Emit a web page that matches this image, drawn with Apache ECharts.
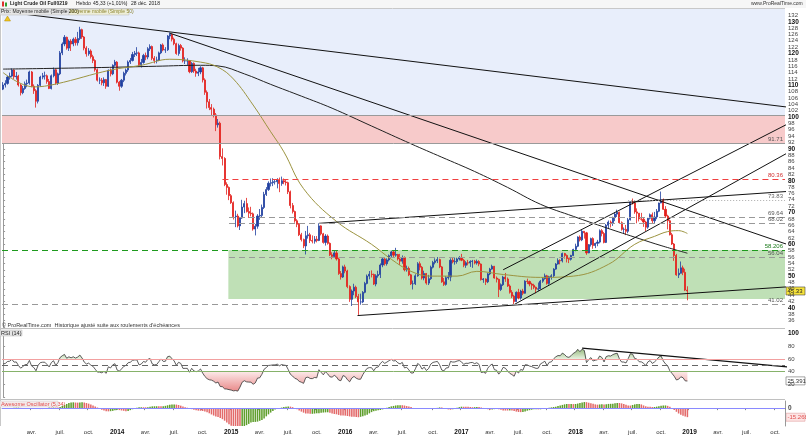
<!DOCTYPE html>
<html><head><meta charset="utf-8">
<script src="https://cdn.jsdelivr.net/npm/echarts@6/dist/echarts.min.js"></script>
<style>html,body{margin:0;padding:0;background:#fff;}#chart{width:806px;height:437px;}</style>
</head><body><div id="chart"></div>
<script>
// ---------------- DATA (weekly, adjusted continuous contract) ----------------
const firstOpen = 108.8;
const close2013 = [110.1,110.6,112.6,112.9,114.8,112.7,112.9,110.1,107.7,109.0,110.5,110.7,114.2,109.7,108.3,105.0,110.0,112.6,113.0,113.0,111.2,109.0,113.0,114.9,110.7,113.6,120.2,123.0,125.1,121.7,123.9,123.0,124.5,123.4,124.7,127.5,125.2,121.7,119.9,120.8,119.0,117.8,114.9,111.6,111.6,110.8,111.8,109.7,114.7,113.6,116.3,117.3];
const high2013  = [111.0,111.6,113.0,114.0,115.3,115.0,114.2,113.3,110.5,109.8,111.2,111.8,114.6,114.5,110.3,108.8,110.4,113.0,113.9,114.3,113.4,112.0,113.4,115.6,115.2,114.0,120.8,123.5,125.8,125.3,124.4,124.5,125.0,125.2,126.8,128.4,127.8,125.5,122.3,121.7,121.3,119.6,118.2,115.3,112.5,112.3,112.5,112.0,115.0,115.3,116.6,118.0];
const low2013   = [108.5,109.3,110.2,111.8,112.5,112.0,111.8,109.6,106.8,107.2,108.6,109.4,110.2,109.4,107.3,103.0,104.3,109.5,111.9,111.8,110.5,108.8,108.7,112.5,110.2,110.1,113.2,119.5,122.3,121.2,120.8,120.8,122.3,122.5,122.5,124.2,124.6,121.0,119.0,119.3,118.4,117.0,114.3,111.2,110.4,110.0,109.8,108.9,109.5,112.8,113.2,115.9];
const close2014 = [111.0,109.7,111.6,113.8,114.8,117.3,117.8,119.7,120.1,120.2,116.5,117.2,119.4,118.9,121.5,122.2,118.5,117.8,118.0,120.2,122.7,121.1,121.2,125.5,126.0,124.5,123.1,120.0,122.5,121.7,117.7,117.7,117.7,114.3,116.9,114.5,113.8,114.2,115.5,111.7,107.8,104.8,103.0,102.5,100.7,97.6,98.1,87.6,87.0,78.8,77.9,75.3];
const high2014  = [117.6,111.4,112.0,114.3,115.3,117.8,118.6,120.5,120.8,122.0,120.6,118.3,119.9,120.3,122.0,122.9,122.5,119.2,119.0,120.6,123.0,123.2,122.0,125.8,126.6,126.2,125.0,123.4,123.1,123.0,122.0,118.8,118.5,117.9,117.3,117.2,115.2,115.5,116.0,115.8,112.2,108.4,105.7,104.1,103.0,101.3,99.4,98.6,90.2,87.4,79.5,78.2];
const low2014   = [110.6,108.3,109.2,111.0,113.1,114.2,116.7,117.5,118.9,119.2,115.8,115.6,116.8,117.9,118.2,120.8,117.9,116.9,116.9,117.6,119.8,120.7,120.2,120.8,124.5,123.8,122.6,119.6,119.3,120.9,117.2,116.7,116.4,113.8,113.9,113.9,112.7,112.9,113.5,110.9,107.0,102.7,102.2,100.6,99.9,95.6,96.7,86.7,84.8,78.3,75.6,73.9];
const close2015 = [73.1,68.7,68.9,65.8,68.3,71.7,72.8,70.3,69.8,69.6,64.8,65.7,68.9,69.1,71.6,75.7,77.2,79.2,79.4,79.7,79.7,80.3,79.1,80.0,79.6,79.4,76.5,72.2,70.3,67.4,66.3,63.0,61.5,59.5,62.7,63.0,61.2,61.0,61.6,61.2,65.8,63.3,60.6,62.6,60.3,56.7,56.2,57.3,55.4,50.8,49.7,52.9,51.6];
const high2015  = [75.8,73.5,70.6,69.6,68.6,74.0,73.7,74.6,71.6,71.8,70.0,66.4,69.5,71.1,72.5,76.5,78.0,79.8,80.7,80.8,80.5,80.8,81.0,81.3,80.7,80.4,79.7,76.9,73.0,70.6,67.9,66.7,63.6,61.8,64.2,65.8,63.6,62.8,62.6,62.6,66.6,66.0,63.6,63.2,63.1,60.6,57.5,58.0,58.2,55.8,51.6,53.3,53.6];
const low2015   = [72.7,67.8,65.4,65.3,64.5,68.0,69.8,70.0,68.3,68.8,64.3,62.8,64.9,67.7,68.4,71.1,75.2,76.8,78.2,78.3,78.8,77.6,76.4,78.4,78.9,78.5,75.8,71.3,69.7,66.8,65.4,62.6,60.9,58.8,56.8,61.8,60.4,60.3,60.2,60.6,61.0,62.8,60.2,59.6,59.9,56.3,55.3,55.7,54.9,50.4,48.9,49.4,50.9];
const close2016 = [46.7,42.7,45.3,46.5,43.6,41.9,41.9,44.9,47.7,50.0,50.6,50.5,47.5,50.1,50.5,53.5,55.4,53.9,55.1,56.4,57.6,56.6,56.8,55.4,54.7,55.8,52.0,52.4,50.4,47.6,47.6,50.1,53.9,52.8,49.4,50.8,47.8,49.2,52.8,54.3,54.8,55.2,52.9,48.2,47.4,49.5,49.7,55.0,54.5,54.6,55.4,55.8];
const high2016  = [52.0,47.1,45.8,47.6,47.0,44.4,44.5,45.3,48.2,50.5,51.6,51.8,50.8,50.6,51.7,54.0,55.9,55.8,55.6,56.8,58.0,58.0,58.9,57.0,57.0,56.5,56.2,53.3,53.0,50.7,48.6,50.6,54.4,54.6,53.2,51.7,51.0,50.4,53.3,54.8,55.6,56.0,55.5,53.2,49.4,50.0,51.3,55.6,55.9,56.0,55.8,56.3];
const low2016   = [46.2,41.9,40.6,44.0,43.1,37.8,41.0,41.5,44.6,47.4,49.0,49.6,47.2,46.8,49.5,49.4,52.8,53.3,53.3,54.6,55.8,56.0,56.1,54.9,53.5,53.9,51.5,51.4,50.0,47.2,45.8,47.2,49.8,51.8,48.9,48.7,47.3,47.2,48.8,52.4,53.7,54.1,52.5,47.9,46.9,47.0,48.9,48.4,54.0,53.6,53.9,54.9];
const close2017 = [55.0,53.4,54.2,54.1,54.6,54.7,54.1,54.6,53.8,48.9,49.1,48.2,50.7,52.2,53.1,49.4,49.0,45.8,47.3,49.7,49.1,46.9,44.9,43.7,42.0,44.9,43.1,45.3,44.6,48.4,48.3,47.5,47.1,46.5,45.9,46.0,48.4,49.2,50.1,47.7,49.8,50.1,52.2,53.8,54.9,54.8,57.1,56.5,55.5,55.3,56.5,58.4];
const high2017  = [57.0,55.4,54.7,55.1,55.0,55.1,55.1,55.2,55.0,54.0,49.4,49.3,51.0,52.6,53.6,53.2,49.9,49.2,47.7,50.1,51.0,49.6,47.4,45.6,44.1,45.2,46.0,45.7,46.0,48.7,49.2,48.6,47.9,47.6,46.7,48.0,48.8,49.6,50.8,50.4,50.1,50.6,52.5,54.1,55.6,55.3,57.4,57.3,56.8,55.8,56.7,58.6];
const low2017   = [54.7,52.8,52.6,53.4,52.9,52.6,53.7,53.6,53.1,48.6,47.9,47.2,47.8,50.3,52.0,49.2,48.0,43.4,45.3,46.9,48.2,46.6,44.5,43.1,41.05,41.9,42.7,42.6,44.0,44.5,47.5,46.8,45.7,45.9,44.6,45.3,45.9,47.9,48.9,47.3,47.3,48.9,49.6,52.0,53.6,53.7,54.3,55.5,54.3,54.1,54.9,56.3];
const close2018 = [59.4,62.3,61.4,64.1,63.6,57.3,59.9,61.8,59.6,60.3,60.7,64.3,63.4,60.6,66.0,67.0,66.8,68.4,69.5,70.1,66.8,64.7,64.7,64.1,67.7,73.3,73.0,70.2,69.8,68.0,67.9,67.0,65.4,68.2,69.3,67.4,68.6,70.4,73.0,74.0,71.0,68.9,67.4,63.0,60.1,56.5,50.4,50.9,52.6,51.2,45.6,45.33];
const high2018  = [60.2,62.5,62.8,64.6,64.1,63.9,60.1,62.1,62.2,60.5,61.4,64.7,64.8,63.9,66.4,67.5,67.5,68.7,70.1,70.9,70.3,67.2,65.3,66.1,68.3,73.4,74.4,73.5,71.3,69.8,69.9,68.4,67.4,68.3,69.7,70.0,70.2,71.1,73.1,76.6,74.4,72.0,69.3,67.8,63.6,60.4,57.0,52.4,54.6,53.3,52.3,46.8];
const low2018   = [57.8,59.1,60.9,61.0,61.8,56.7,57.2,59.3,58.6,58.8,59.4,60.3,62.5,60.3,60.4,64.9,65.3,65.8,67.3,68.6,66.5,64.3,63.4,62.9,63.5,67.5,72.5,69.6,66.6,67.2,67.4,65.5,64.2,64.9,67.8,66.7,66.5,67.9,70.1,72.9,70.8,68.3,64.7,62.8,59.8,54.8,50.1,49.4,50.8,50.3,45.3,42.4];

// moving averages (week index, value)
const ma50Idx = [0,14,24,49,63,76,90,98,105,114,122,128,137,152,168,177,186,195,207,216,228,245,260,276,288,297,303,308,312];
const ma50Val = [114.0,109.5,110.4,114.8,116.3,118.2,117.3,115.7,112.0,103.8,95.4,89.1,77.5,67.2,60.0,55.3,51.5,50.0,50.0,51.5,50.5,49.6,50.0,53.7,60.0,62.5,64.0,64.3,63.4];
const ma200Idx = [0,20,45,70,90,98,110,122,136,150,168,186,200,215,230,245,260,275,290,300,312];
const ma200Val = [115.1,115.3,115.6,116.0,116.3,116.1,113.6,110.3,106.6,102.8,97.2,91.6,87.4,82.9,77.9,72.6,68.8,65.2,61.8,59.6,57.2];

// zones and horizontal levels (price values, start week index)
const zoneBlue  = [100.7, 134];
const zonePink  = [91.71, 100.7];
const zoneGreen = [42.8, 58.206];
const zoneGreenFrom = 102.7;
const levelVals  = [100.7, 91.71, 80.36, 73.83, 68.6, 66.7, 58.206, 56.04, 41.02];
const levelText  = ['', '91.71', '80.36', '73.83', '69.64', '68.02', '58.206', '56.04', '41.02'];
const levelFrom  = [-0.5, -0.5, 100, 285, 103, 103, -0.5, 103, -0.5];
const levelKind  = ['border','border','red','dot','grey','grey','green','grey','grey'];

// trend lines: [weekIndex, price]
const trendA = [[-1.4,133.3],[357,103.2]];
const trendB = [[76,126.4],[357,60.1]];
const trendC = [[144,66.6],[357,76.6]];
const trendD = [[161.6,37.6],[357,46.6]];
const trendE = [[233,41.05],[357,88.5]];
const trendF = [[228,52.0],[357,97.6]];
const rsiTrend = [[264,77],[358.5,47]];
const lastPrice = 45.33, lastRsi = 25.391, lastAo = -15.268;

// ---------------- BUILD ----------------
const closes = [].concat(close2013, close2014, close2015, close2016, close2017, close2018);
const highs  = [].concat(high2013, high2014, high2015, high2016, high2017, high2018);
const lows   = [].concat(low2013, low2014, low2015, low2016, low2017, low2018);
const N = closes.length;
const NCAT = 357, DAY = 864e5, W0 = Date.UTC(2013, 0, 4);
const cats = Array.from({length: NCAT}, (_, k) => new Date(W0 + k * 7 * DAY).toISOString().slice(0, 10));
const candles = closes.map((c, i) => [i === 0 ? firstOpen : closes[i - 1], c, lows[i], highs[i]]);

// RSI(14) Wilder smoothing (seeded neutral)
const rsi = [];
let ag = 1.2, al = 1.2;
for (let i = 0; i < N; i++) {
  const prev = i === 0 ? firstOpen : closes[i - 1];
  const ch = closes[i] - prev, g = Math.max(ch, 0), l = Math.max(-ch, 0);
  ag = (ag * 13 + g) / 14; al = (al * 13 + l) / 14;
  rsi.push(al === 0 ? 100 : 100 - 100 / (1 + ag / al));
}
// Awesome oscillator (5,34)
const med = highs.map((h, i) => (h + lows[i]) / 2);
const sma = (a, i, n) => { const s = Math.max(0, i - n + 1); let t = 0; for (let j = s; j <= i; j++) t += a[j]; return t / (i - s + 1); };
const ao = med.map((_, i) => sma(med, i, 5) - sma(med, i, 34));
const aoData = ao.map((v, i) => ({value: v, itemStyle: {color: (i > 0 && v < ao[i - 1]) ? '#e36a6a' : '#5f9e2c'}}));

const MON = {3: 'avr.', 6: 'juil.', 9: 'oct.'};
function qText(k) {
  if (k <= 0) return '';
  const d = new Date(W0 + k * 7 * DAY), p = new Date(W0 + (k - 1) * 7 * DAY);
  const m = d.getUTCMonth();
  if (m === p.getUTCMonth() || m % 3) return '';
  return m === 0 ? '{y|' + d.getUTCFullYear() + '}' : MON[m];
}

const FONT = 'Liberation Sans, Arial, sans-serif';
const lvlStyle = {
  border: {color: '#9a9a9a', type: 'solid', width: 1},
  red: {color: '#f04040', type: [6, 4], width: 1},
  dot: {color: '#aaaaaa', type: [1, 2], width: 1},
  grey: {color: '#999999', type: [6, 4], width: 1},
  green: {color: '#1e9a1e', type: [6, 4], width: 1}
};
const lvlText = {border: '#555', red: '#d03030', dot: '#666', grey: '#555', green: '#1a7a1a'};
const levelLines = levelVals.map((v, j) => [
  {coord: [levelFrom[j], v], lineStyle: lvlStyle[levelKind[j]],
   label: {show: !!levelText[j], formatter: levelText[j], position: 'insideEndTop', fontSize: 6, color: lvlText[levelKind[j]], fontFamily: FONT, distance: [2, 1]}},
  {coord: [356.5, v]}
]);

const trendSeries = [trendA, trendB, trendC, trendD, trendE, trendF].map(t => ({
  type: 'line', xAxisIndex: 1, yAxisIndex: 0, data: t, symbol: 'none', silent: true, z: 4,
  lineStyle: {color: '#111', width: 1}, clip: true
}));

const hidCat = gi => ({type: 'category', gridIndex: gi, data: cats, axisLine: {show: false}, axisTick: {show: false}, axisLabel: {show: false}, splitLine: {show: false}});
const hidVal = gi => ({type: 'value', gridIndex: gi, min: -0.5, max: 356.5, show: false});

const chart = echarts.init(document.getElementById('chart'), null, {renderer: 'canvas'});
const option = {
  animation: false,
  backgroundColor: '#ffffff',
  textStyle: {fontFamily: FONT},
  grid: [
    {left: 2, right: 21, top: 9, height: 318},
    {left: 2, right: 21, top: 333.5, height: 63.5},
    {left: 2, right: 21, top: 401, height: 25}
  ],
  xAxis: [
    hidCat(0), hidVal(0), hidCat(1), hidVal(1),
    {type: 'category', gridIndex: 2, data: cats,
     axisLine: {show: true, lineStyle: {color: '#aaa'}},
     axisTick: {show: true, interval: k => qText(k) !== '', length: 2, lineStyle: {color: '#888'}},
     axisLabel: {interval: k => qText(k) !== '', formatter: (v, k) => qText(k), fontSize: 6, color: '#333', margin: 3,
       rich: {y: {fontWeight: 'bold', fontSize: 6.5, color: '#111'}}},
     splitLine: {show: false}}
  ],
  yAxis: [
    {type: 'value', gridIndex: 0, position: 'right', min: 34, max: 134, interval: 2, scale: true,
     axisLine: {show: true, lineStyle: {color: '#999'}}, axisTick: {show: true, length: 2, lineStyle: {color: '#999'}},
     splitLine: {show: false},
     axisLabel: {fontSize: 6, color: '#444', margin: 3,
       formatter: v => (v === 34 || v === 134) ? '' : (v % 10 === 0 ? '{b|' + v + '}' : String(v)),
       rich: {b: {fontWeight: 'bold', fontSize: 6.5, color: '#111'}}}},
    {type: 'value', gridIndex: 1, position: 'right', min: 0, max: 100, interval: 20,
     axisLine: {show: true, lineStyle: {color: '#999'}}, axisTick: {show: true, length: 2, lineStyle: {color: '#999'}},
     splitLine: {show: false},
     axisLabel: {fontSize: 6, color: '#444', margin: 3, formatter: v => v === 0 ? '' : (v === 100 ? '{b|100}' : String(v)),
       rich: {b: {fontWeight: 'bold', fontSize: 6.5, color: '#111'}}}},
    {type: 'value', gridIndex: 2, position: 'right', min: -30, max: 12, interval: 10,
     axisLine: {show: true, lineStyle: {color: '#999'}}, axisTick: {show: false},
     splitLine: {show: false},
     axisLabel: {fontSize: 6, color: '#444', margin: 3, formatter: v => v === 0 ? '{b|0}' : '', rich: {b: {fontWeight: 'bold', fontSize: 6.5}}}}
  ],
  series: [
    {type: 'line', xAxisIndex: 1, yAxisIndex: 0, data: [], z: 0, silent: true,
     markArea: {silent: true, data: [
       [{coord: [-0.5, zoneBlue[0]], itemStyle: {color: '#e8eefb'}}, {coord: [356.5, zoneBlue[1]]}],
       [{coord: [-0.5, zonePink[0]], itemStyle: {color: '#f7caca'}}, {coord: [356.5, zonePink[1]]}],
       [{coord: [zoneGreenFrom, zoneGreen[0]], itemStyle: {color: '#bfe0b6'}}, {coord: [356.5, zoneGreen[1]]}]
     ]}},
    {type: 'line', xAxisIndex: 1, yAxisIndex: 0, data: [], z: 1, silent: true,
     markLine: {silent: true, symbol: ['none', 'none'], data: levelLines}},
    {type: 'candlestick', xAxisIndex: 0, yAxisIndex: 0, data: candles, barWidth: '72%', z: 3,
     itemStyle: {color: '#1f3fa0', color0: '#e3201c', borderColor: '#1f3fa0', borderColor0: '#e3201c', borderWidth: 0.8}},
    {type: 'line', xAxisIndex: 1, yAxisIndex: 0, data: ma200Idx.map((k, j) => [k, ma200Val[j]]), symbol: 'none', smooth: 0.4, z: 4,
     lineStyle: {color: '#222', width: 1}},
    {type: 'line', xAxisIndex: 1, yAxisIndex: 0, data: ma50Idx.map((k, j) => [k, ma50Val[j]]), symbol: 'none', smooth: 0.4, z: 4,
     lineStyle: {color: '#9c9440', width: 1}},
    ...trendSeries,
    // RSI
    {type: 'line', xAxisIndex: 2, yAxisIndex: 1, data: rsi.map(v => Math.max(v, 60)), symbol: 'none', lineStyle: {width: 0},
     areaStyle: {origin: 60, color: new echarts.graphic.LinearGradient(0, 0, 0, 1, [{offset: 0, color: '#6e9f4a'}, {offset: 1, color: '#dcebd2'}])}, z: 1},
    {type: 'line', xAxisIndex: 2, yAxisIndex: 1, data: rsi.map(v => Math.min(v, 40)), symbol: 'none', lineStyle: {width: 0},
     areaStyle: {origin: 40, color: new echarts.graphic.LinearGradient(0, 0, 0, 1, [{offset: 0, color: '#fbe0e0'}, {offset: 1, color: '#e05858'}])}, z: 1},
    {type: 'line', xAxisIndex: 2, yAxisIndex: 1, data: rsi, symbol: 'none', lineStyle: {color: '#333', width: 0.8}, z: 3,
     markLine: {silent: true, symbol: ['none', 'none'], label: {show: false}, data: [
       {yAxis: 60, lineStyle: {color: '#f2a0a0', type: 'solid', width: 1}},
       {yAxis: 50, lineStyle: {color: '#666', type: [6, 4], width: 1}},
       {yAxis: 40, lineStyle: {color: '#86b26a', type: 'solid', width: 1}}
     ]}},
    {type: 'line', xAxisIndex: 3, yAxisIndex: 1, data: rsiTrend, symbol: 'none', lineStyle: {color: '#111', width: 1.2}, z: 4, clip: true},
    // AO
    {type: 'bar', xAxisIndex: 4, yAxisIndex: 2, data: aoData, barWidth: '70%', z: 2,
     markLine: {silent: true, symbol: ['none', 'none'], label: {show: false}, data: [{yAxis: 0, lineStyle: {color: '#8a8aff', type: 'solid', width: 1}}]}}
  ]
};
chart.setOption(option);

// overlays (text, frames, value tags)
const yP = chart.convertToPixel({yAxisIndex: 0}, lastPrice);
const yR = chart.convertToPixel({yAxisIndex: 1}, lastRsi);
const yA = chart.convertToPixel({yAxisIndex: 2}, lastAo);
const tag = (y, txt, bg, fg, stroke) => ({type: 'group', x: 786, y: y - 4, children: [
  {type: 'rect', shape: {x: 0, y: 0, width: 19, height: 8}, style: {fill: bg, stroke: stroke, lineWidth: 0.6}},
  {type: 'text', x: 1.5, y: 1, style: {text: txt, fontSize: 6, fill: fg, fontFamily: FONT}}
]});
const hl = (x1, y1, x2, y2, c) => ({type: 'line', shape: {x1, y1, x2, y2}, style: {stroke: c, lineWidth: 1}, silent: true, z: 50});
chart.setOption({graphic: [
  {type: 'rect', shape: {x: 0, y: 0, width: 806, height: 8}, style: {fill: '#f6f6f6'}, z: 40},
  hl(0, 8.5, 785, 8.5, '#c8c8c8'),
  {type: 'rect', shape: {x: 2, y: 1.5, width: 2, height: 5}, style: {fill: '#e03030'}, z: 60},
  {type: 'rect', shape: {x: 5, y: 2.5, width: 2, height: 4}, style: {fill: '#30a030'}, z: 60},
  {type: 'text', x: 10, y: 1.5, z: 60, style: {text: 'Light Crude Oil Full0219', fontSize: 5, fontWeight: 'bold', fill: '#222', fontFamily: FONT}},
  {type: 'text', x: 76, y: 1.5, z: 60, style: {text: 'Hebdo', fontSize: 5, fill: '#222', fontFamily: FONT}},
  {type: 'text', x: 93, y: 1.5, z: 60, style: {text: '45,33 (+1,01%)', fontSize: 5, fill: '#222', fontFamily: FONT}},
  {type: 'text', x: 131, y: 1.5, z: 60, style: {text: '28 déc. 2018', fontSize: 5, fill: '#222', fontFamily: FONT}},
  {type: 'text', x: 751, y: 1.5, z: 60, style: {text: 'www.ProRealTime.com', fontSize: 5, fill: '#333', fontFamily: FONT}},
  {type: 'rect', shape: {x: 0, y: 9, width: 69, height: 6}, style: {fill: '#e6e6e6', stroke: '#bbb', lineWidth: 0.5}, z: 60},
  {type: 'text', x: 1, y: 9.5, z: 61, style: {text: 'Prix: Moyenne mobile (Simple 200)', fontSize: 5, fill: '#222', fontFamily: FONT}},
  {type: 'rect', shape: {x: 69, y: 9, width: 60, height: 6}, style: {fill: '#eeeed8', stroke: '#bbb', lineWidth: 0.5}, z: 60},
  {type: 'text', x: 70, y: 9.5, z: 61, style: {text: 'Moyenne mobile (Simple 50)', fontSize: 5, fill: '#8c8430', fontFamily: FONT}},
  {type: 'polygon', shape: {points: [[4.5, 21], [7.5, 16], [10.5, 21]]}, style: {fill: '#f2c61f', stroke: '#b08a00', lineWidth: 0.5}, z: 60},
  {type: 'text', x: 2, y: 322, z: 60, style: {text: '© ProRealTime.com  Historique ajusté suite aux roulements d\'échéances', fontSize: 5.5, fill: '#333', fontFamily: FONT}},
  hl(0, 328.5, 785, 328.5, '#c0c0c0'),
  hl(0, 399.5, 785, 399.5, '#c0c0c0'),
  hl(0.5, 8, 0.5, 426, '#c8c8c8'),
  {type: 'rect', shape: {x: 0, y: 330, width: 22, height: 6}, style: {fill: '#e6e6e6', stroke: '#bbb', lineWidth: 0.5}, z: 60},
  {type: 'text', x: 1, y: 330.5, z: 61, style: {text: 'RSI (14)', fontSize: 5.5, fill: '#222', fontFamily: FONT}},
  {type: 'rect', shape: {x: 0, y: 401, width: 58, height: 6}, style: {fill: '#f3eaea', stroke: '#ccc', lineWidth: 0.5}, z: 60},
  {type: 'text', x: 1, y: 401.5, z: 61, style: {text: 'Awesome Oscillator (5,34)', fontSize: 5.5, fill: '#e05050', fontFamily: FONT}},
  tag(yP, '45.33', '#f5e23a', '#222', '#444'),
  tag(yR, '25.391', '#ffffff', '#333', '#666'),
  tag(yA, '-15.268', '#fde4e4', '#e05050', '#e0a0a0')
]});
</script></body></html>
